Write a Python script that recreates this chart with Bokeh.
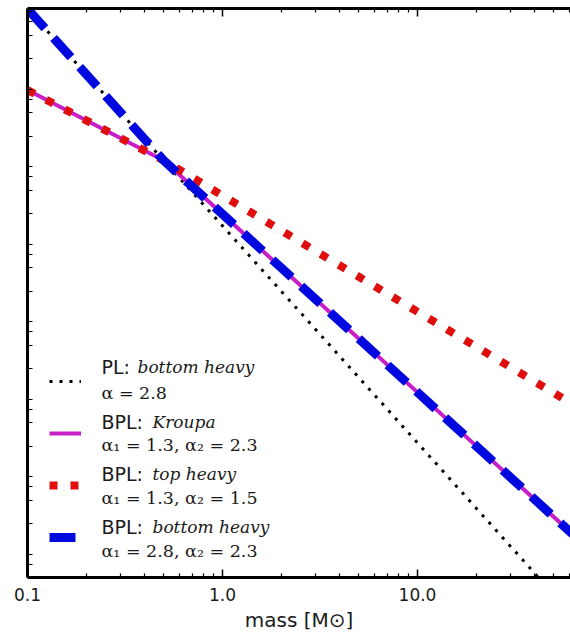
from bokeh.plotting import figure
from bokeh.models import LogAxis, FixedTicker, Label, Legend, LegendItem, NumeralTickFormatter
from bokeh.embed import file_html
from bokeh.resources import INLINE

# ---- data (y in arbitrary units, labels not visible) ----
mass = [0.1, 0.5, 100.0]
pl_bottom_heavy = [4.37e6, 4.83e4, 0.0174]     # PL alpha=2.8
bpl_kroupa = [3.92e5, 4.83e4, 0.247]           # BPL 1.3 / 2.3
bpl_top_heavy = [3.92e5, 4.83e4, 17.1]         # BPL 1.3 / 1.5
bpl_bottom_heavy = [4.37e6, 4.83e4, 0.247]     # BPL 2.8 / 2.3

x_major = [0.1, 1.0, 10.0]
x_minor = [0.2, 0.3, 0.4, 0.5, 0.6, 0.7, 0.8, 0.9,
           2, 3, 4, 5, 6, 7, 8, 9, 20, 30, 40, 50, 60, 70, 80, 90]
y_mult = [1, 2, 3, 4]
y_decades = [-1, 0, 1, 2, 3, 4, 5, 6]
y_ticks = [m * 10.0 ** d for d in y_decades for m in y_mult]

legend_prefix = ["PL:", "BPL:", "BPL:", "BPL:"]
legend_italic = ["bottom heavy", "Kroupa", "top heavy", "bottom heavy"]
legend_params = ["α = 2.8", "α₁ = 1.3, α₂ = 2.3", "α₁ = 1.3, α₂ = 1.5", "α₁ = 2.8, α₂ = 2.3"]

TXT = "#1a1a1a"

p = figure(width=570, height=637, x_axis_type="log", y_axis_type="log",
           x_range=(0.1, 60.9), y_range=(0.201, 4.42e6),
           output_backend="svg", toolbar_location=None,
           min_border_left=27, min_border_right=0, min_border_top=8, min_border_bottom=60)
p.outline_line_color = None
p.grid.visible = False
p.background_fill_color = "white"
p.border_fill_color = "white"

xt = FixedTicker(ticks=x_major, minor_ticks=x_minor)
yt = FixedTicker(ticks=y_ticks, minor_ticks=[])

xa = p.xaxis[0]
xa.ticker = xt
xa.formatter = NumeralTickFormatter(format="0.0")
xa.axis_line_width = 3
xa.major_tick_in = 8
xa.major_tick_out = 0
xa.minor_tick_in = 4
xa.minor_tick_out = 0
xa.major_tick_line_width = 1.5
xa.minor_tick_line_width = 1.2
xa.major_label_text_font = "DejaVu Sans"
xa.major_label_text_font_size = "17px"
xa.major_label_text_color = TXT
xa.major_label_standoff = 10
xa.axis_label = "mass [M⊙]"
xa.axis_label_text_font = "DejaVu Sans"
xa.axis_label_text_font_size = "20px"
xa.axis_label_text_font_style = "normal"
xa.axis_label_text_color = TXT
xa.axis_label_standoff = 4

top = LogAxis(ticker=xt, axis_line_width=3, major_tick_in=8, major_tick_out=0,
              minor_tick_in=4, minor_tick_out=0, major_tick_line_width=1.5,
              minor_tick_line_width=1.2, major_label_text_font_size="1px",
              major_label_text_color=None, major_label_standoff=0)
p.add_layout(top, "above")

ya = p.yaxis[0]
ya.ticker = yt
ya.axis_line_width = 3
ya.major_tick_in = 5
ya.major_tick_out = 0
ya.major_tick_line_width = 1.2
ya.minor_tick_in = 0
ya.minor_tick_out = 0
ya.major_label_text_font_size = "1px"
ya.major_label_text_color = None
ya.major_label_standoff = 0

r_pl = p.line(mass, pl_bottom_heavy, line_color="black", line_width=3, line_dash="3 7")
r_kr = p.line(mass, bpl_kroupa, line_color="#c81ec8", line_width=4)
r_top = p.line(mass, bpl_top_heavy, line_color="#e00d0d", line_width=8, line_dash="8 13")
r_bot = p.line(mass, bpl_bottom_heavy, line_color="#0008e0", line_width=9, line_dash="26 13")

items = [LegendItem(label=" ", renderers=[r]) for r in (r_pl, r_kr, r_top, r_bot)]
legend = Legend(items=items, location=(22, 30), orientation="vertical",
                glyph_width=32, glyph_height=20, label_height=20, label_width=1,
                spacing=32, padding=0, margin=0, border_line_color=None,
                background_fill_alpha=0, label_standoff=0,
                label_text_font_size="2px")
p.add_layout(legend)

line1_y = [366, 421, 473, 526]
line2_y = [392, 444, 497, 550]
italic_x = [137, 152, 152, 152]
FRAME_L, FRAME_B = 27, 577
for i in range(4):
    p.add_layout(Label(x=101 - FRAME_L, y=FRAME_B - line1_y[i], x_units="screen", y_units="screen",
                       text=legend_prefix[i], text_font="DejaVu Sans", text_font_size="19px",
                       text_color=TXT, text_baseline="middle"))
    p.add_layout(Label(x=italic_x[i] - FRAME_L, y=FRAME_B - line1_y[i], x_units="screen", y_units="screen",
                       text=legend_italic[i], text_font="DejaVu Serif", text_font_size="17px",
                       text_font_style="italic", text_color=TXT, text_baseline="middle"))
    p.add_layout(Label(x=101 - FRAME_L, y=FRAME_B - line2_y[i], x_units="screen", y_units="screen",
                       text=legend_params[i], text_font="DejaVu Serif", text_font_size="17.5px",
                       text_color=TXT, text_baseline="middle"))

open("out.html", "w").write(file_html(p, INLINE))
